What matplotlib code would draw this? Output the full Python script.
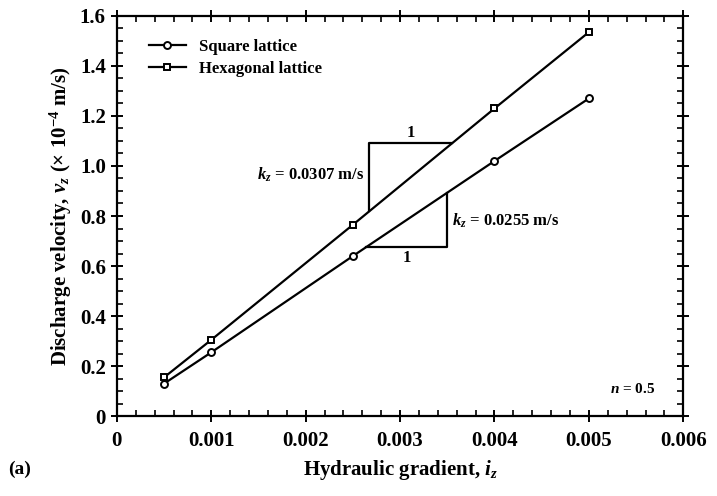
import matplotlib.pyplot as plt
import numpy as np
from matplotlib.ticker import MultipleLocator

plt.rcParams['font.family'] = ['Liberation Serif', 'DejaVu Serif']
plt.rcParams['font.weight'] = 'bold'
plt.rcParams['axes.labelweight'] = 'bold'
plt.rcParams['mathtext.fontset'] = 'custom'
plt.rcParams['mathtext.rm'] = 'Liberation Serif:bold'
plt.rcParams['mathtext.it'] = 'Liberation Serif:bold:italic'

# hydraulic gradient and discharge velocity (x 1e-4 m/s)
gradient = [0.0005, 0.001, 0.0025, 0.004, 0.005]
square_v = [0.13, 0.255, 0.64, 1.02, 1.27]
hexagon_v = [0.155, 0.305, 0.765, 1.23, 1.535]

xticks = [0, 0.001, 0.002, 0.003, 0.004, 0.005, 0.006]
xlabels = ['0', '0.001', '0.002', '0.003', '0.004', '0.005', '0.006']
yticks = [0, 0.2, 0.4, 0.6, 0.8, 1.0, 1.2, 1.4, 1.6]
ylabels = ['0', '0.2', '0.4', '0.6', '0.8', '1.0', '1.2', '1.4', '1.6']

# slope triangles
hex_tri_x = [0.00267, 0.00267, 0.00355]
hex_tri_y = [0.82, 1.09, 1.09]
sq_tri_x = [0.00264, 0.0035, 0.0035]
sq_tri_y = [0.676, 0.676, 0.893]

fig = plt.figure(figsize=[7.17, 4.96], dpi=100)
ax = fig.add_axes([0.163, 0.161, 0.79, 0.807])

ax.plot(gradient, square_v, '-o', color='black', lw=1.6, ms=5,
        mfc='white', mew=1.4, label='Square lattice')
ax.plot(gradient, hexagon_v, '-s', color='black', lw=1.6, ms=5,
        mfc='white', mew=1.4, label='Hexagonal lattice')

ax.plot(hex_tri_x, hex_tri_y, color='black', lw=1.6)
ax.plot(sq_tri_x, sq_tri_y, color='black', lw=1.6)

ax.text(0.00311, 1.10, '1', ha='center', va='bottom', fontsize=12)
ax.text(0.00262, 0.965, r'$k_z$ = 0.0307 m/s', ha='right', va='center', fontsize=12)
ax.text(0.00355, 0.78, r'$k_z$ = 0.0255 m/s', ha='left', va='center', fontsize=12)
ax.text(0.00307, 0.665, '1', ha='center', va='top', fontsize=12)
ax.text(0.0057, 0.08, r'$n$ = 0.5', ha='right', va='bottom', fontsize=11)

ax.legend(loc='upper left', bbox_to_anchor=(0.03, 0.98), frameon=False,
          fontsize=12, handlelength=2.2, labelspacing=0.35)

ax.set_xlim(0, 0.006)
ax.set_ylim(0, 1.6)
ax.set_xticks(xticks)
ax.set_xticklabels(xlabels)
ax.set_yticks(yticks)
ax.set_yticklabels(ylabels)
ax.xaxis.set_minor_locator(MultipleLocator(0.0002))
ax.yaxis.set_minor_locator(MultipleLocator(0.05))
ax.tick_params(which='both', top=True, right=True, labelsize=15)
ax.tick_params(axis='x', which='major', pad=6)
ax.tick_params(which='major', direction='inout', length=9, width=1.4)
ax.tick_params(which='minor', direction='in', length=4, width=1.2)
for s in ax.spines.values():
    s.set_linewidth(1.6)

ax.set_xlabel(r'Hydraulic gradient, $i_z$', fontsize=15, labelpad=5)
ax.set_ylabel(r'Discharge velocity, $v_z$ ($\times$ 10$^{-4}$ m/s)', fontsize=15)
fig.text(0.012, 0.045, '(a)', fontsize=14, fontweight='bold')

fig.savefig('out.png', dpi=100)
